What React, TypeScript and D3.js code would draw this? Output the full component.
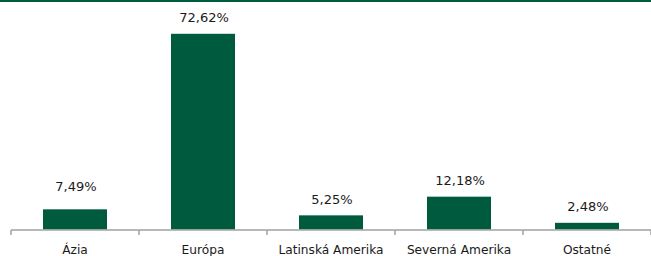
import { useRef, useEffect } from "react";
import * as d3 from "d3";

const categories = ["Ázia", "Európa", "Latinská Amerika", "Severná Amerika", "Ostatné"];
const shares = [7.49, 72.62, 5.25, 12.18, 2.48];
const valueLabels = ["7,49%", "72,62%", "5,25%", "12,18%", "2,48%"];

const green = "#005a3e";

function App() {
  const svgRef = useRef<SVGSVGElement>(null);

  useEffect(() => {
    const w = 651;
    const h = 256;
    const svg = d3.select(svgRef.current);
    svg.selectAll("*").remove();

    // scales
    const x = d3.scaleBand().domain(categories).range([11, 651]).paddingInner(0.5).paddingOuter(0.25);
    const y = d3.scaleLinear().domain([0, 80]).range([229.5, 13.9]);

    // top rule
    svg.append("rect").attr("x", 0).attr("y", 0).attr("width", w).attr("height", 2).attr("fill", green);

    // bars
    svg
      .selectAll(".bar")
      .data(categories)
      .enter()
      .append("rect")
      .attr("x", (d) => x(d)!)
      .attr("y", (d, i) => y(shares[i]))
      .attr("width", x.bandwidth())
      .attr("height", (d, i) => y(0) - y(shares[i]))
      .attr("fill", green);

    // value labels (Ázia label sits a bit higher in the original)
    svg
      .selectAll(".val")
      .data(categories)
      .enter()
      .append("text")
      .attr("x", (d) => x(d)! + x.bandwidth() / 2 + 1)
      .attr("y", (d, i) => y(shares[i]) - 11.5 - (i === 0 ? 6.5 : 0))
      .attr("text-anchor", "middle")
      .attr("font-family", "DejaVu Sans")
      .attr("font-size", 13)
      .attr("fill", "#1a1a1a")
      .text((d, i) => valueLabels[i]);

    // axis
    const step = x.step();
    const bounds = d3.range(categories.length + 1).map((i) => 11 + i * step);
    svg
      .append("line")
      .attr("x1", 11)
      .attr("x2", w)
      .attr("y1", 230)
      .attr("y2", 230)
      .attr("stroke", "#a0a0a0")
      .attr("stroke-width", 1.5);
    svg
      .selectAll(".tick")
      .data(bounds)
      .enter()
      .append("line")
      .attr("x1", (d) => d)
      .attr("x2", (d) => d)
      .attr("y1", 230)
      .attr("y2", 235)
      .attr("stroke", "#a0a0a0")
      .attr("stroke-width", 1.5);

    // category labels
    svg
      .selectAll(".cat")
      .data(categories)
      .enter()
      .append("text")
      .attr("x", (d) => x(d)! + x.bandwidth() / 2)
      .attr("y", 254)
      .attr("text-anchor", "middle")
      .attr("font-family", "DejaVu Sans")
      .attr("font-size", 12.2)
      .attr("fill", "#1a1a1a")
      .text((d) => d);
  }, []);

  return (
    <svg
      ref={svgRef}
      width={651}
      height={256}
      style={{ position: "absolute", left: 0, top: 0, display: "block", background: "#fff" }}
    ></svg>
  );
}

export default App;
